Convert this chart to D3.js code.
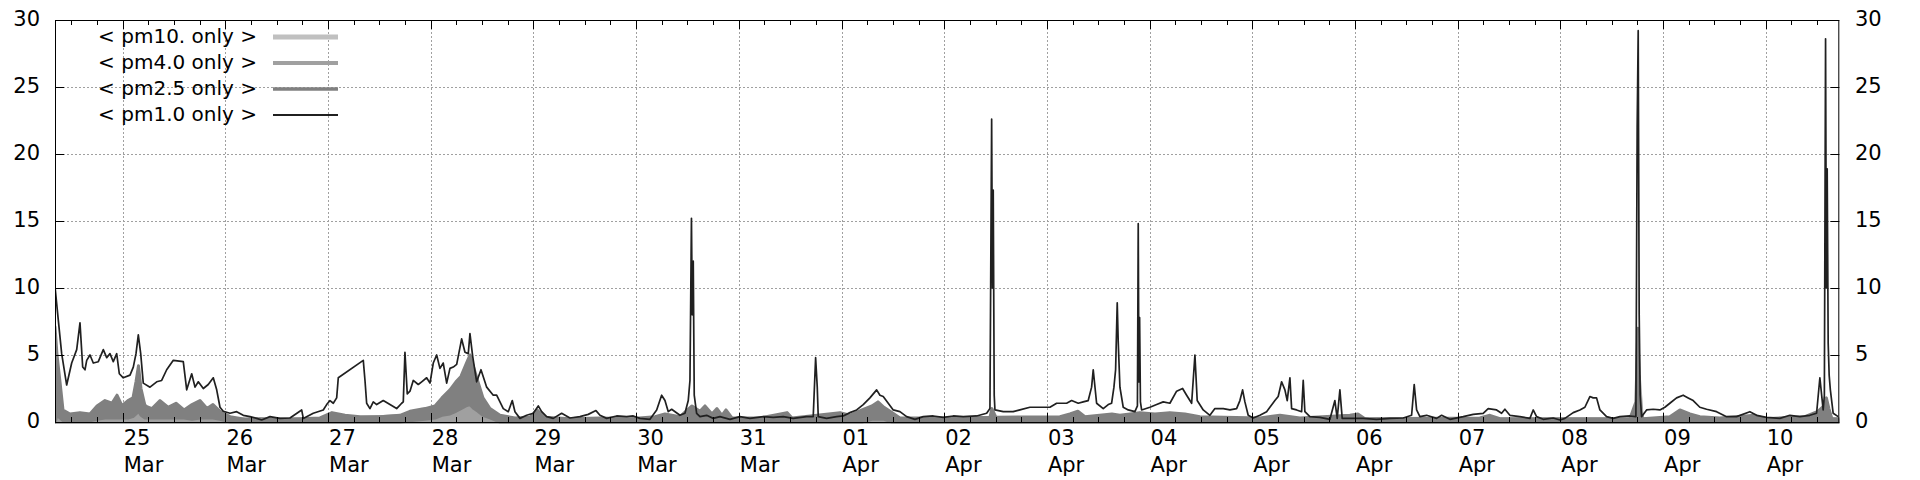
<!DOCTYPE html>
<html><head><meta charset="utf-8">
<script src="https://cdn.jsdelivr.net/npm/d3@7"></script>
<style>
body{margin:0;background:#fff}
svg{display:block}
text{font-family:"DejaVu Sans",sans-serif;fill:#000}
</style>
</head><body>
<svg id="c" width="1920" height="480"></svg>
<script>
// ---------------- DATA (time in hours after 24 Mar 00:00) ----------------
const seriesNames = ["< pm10. only >", "< pm4.0 only >", "< pm2.5 only >", "< pm1.0 only >"];
const yTicks = [0, 5, 10, 15, 20, 25, 30];

const pm1Hours = [8.18,8.95,9.74,10.91,12.08,13.25,14.02,14.65,15.19,15.59,16.36,17.13,18.30,19.47,20.26,21.03,21.80,22.60,23.21,24.14,25.71,26.48,27.11,27.65,28.21,28.81,30.38,31.95,33.11,34.28,35.83,38.16,38.96,40.13,40.90,41.67,42.84,44.0,45.17,45.97,46.74,47.51,49.08,50.64,52.18,53.75,55.32,56.48,58.42,60.76,63.10,65.83,66.21,68.54,70.88,71.67,72.45,73.22,74.01,74.39,80.23,80.63,81.02,81.79,82.57,83.36,84.90,86.47,88.03,89.20,89.58,89.97,90.51,91.14,91.91,93.08,93.88,95.04,95.82,96.59,97.38,98.15,98.92,99.72,100.49,101.26,102.06,103.22,104.0,104.77,105.16,105.8,106.73,107.74,109.07,110.61,111.40,112.95,114.12,115.05,115.68,116.85,118.41,119.96,121.13,121.92,123.09,124.63,126.59,128.53,130.87,132.81,134.61,135.55,137.11,139.45,141.78,143.33,144.89,147.23,148.80,149.96,150.74,151.51,152.30,154.24,155.41,156.18,156.58,156.93,157.12,157.35,157.58,158.14,158.92,160.48,162.02,163.59,165.93,168.26,170.60,173.71,176.04,178.38,180.72,183.85,185.39,185.95,186.33,186.56,188.52,190.86,192.40,193.97,195.54,197.08,198.64,200.21,200.98,201.75,202.92,204.09,205.65,207.22,209.16,211.10,213.44,215.77,218.11,220.45,223.58,225.92,226.69,227.09,227.27,227.46,227.69,227.86,229.80,232.13,233.70,236.04,238.37,240.71,242.28,244.61,245.78,247.32,248.49,249.66,250.45,250.83,251.62,253.17,254.34,255.13,255.67,256.06,256.44,256.67,257.07,257.84,259.01,260.57,261.16,261.35,261.51,261.67,261.86,262.14,264.08,265.65,267.19,268.75,270.32,271.72,272.66,273.83,274.60,275.13,276.54,278.10,279.27,281.21,282.78,284.34,285.11,285.74,286.28,287.05,288.22,289.79,291.35,292.12,293.29,294.06,294.86,295.63,296.17,296.80,297.20,298.36,299.53,299.91,300.30,301.47,303.81,306.15,307.31,307.85,308.48,309.02,310.82,313.93,317.06,320.17,323.28,325.24,325.85,326.41,327.18,328.74,331.08,332.25,334.19,337.30,339.64,341.97,343.14,345.10,346.27,347.04,348.21,350.55,352.89,353.66,354.45,356.0,358.33,359.9,361.07,363.01,364.57,365.74,366.91,367.68,368.47,369.25,370.81,372.35,373.92,376.26,377.66,377.96,378.20,378.43,378.66,378.99,380.16,381.70,383.27,384.43,385.60,387.17,388.71,389.88,391.05,392.61,394.18,396.52,398.85,401.19,404.30,405.87,408.20,411.31,413.65,415.99,418.32,419.89,420.66,421.43,421.71,421.99,422.18,422.37,422.60,422.83,423.11,423.77,424.94];
const pm1Vals = [10.1,7.6,5.1,2.76,4.4,5.4,7.4,4.1,3.9,4.6,5.0,4.4,4.5,5.4,4.8,5.1,4.5,5.1,3.6,3.3,3.5,4.1,5.1,6.5,5.1,2.9,2.6,3.0,3.1,3.9,4.6,4.5,2.4,3.6,2.6,3.0,2.5,2.8,3.3,2.4,1.1,0.8,0.65,0.77,0.5,0.4,0.27,0.15,0.4,0.27,0.3,0.9,0.27,0.65,0.9,1.3,1.6,1.4,1.8,3.3,4.6,3.1,1.4,1.0,1.5,1.3,1.6,1.3,1.0,1.4,1.5,5.2,2.1,2.3,3.1,2.8,3.0,3.3,2.9,4.4,5.0,4.0,4.4,2.9,4.0,4.1,4.3,6.2,5.2,5.1,6.6,4.9,3.0,3.9,2.6,2.0,2.0,1.0,0.77,1.6,0.77,0.27,0.5,0.65,1.2,0.77,0.4,0.27,0.65,0.3,0.4,0.57,0.85,0.5,0.27,0.45,0.4,0.45,0.27,0.2,0.9,2.0,1.6,0.77,0.95,0.5,0.65,1.6,3.1,15.2,8,12,2,0.65,0.4,0.5,0.27,0.4,0.2,0.4,0.27,0.4,0.35,0.4,0.27,0.4,0.4,4.8,2.6,0.4,0.27,0.4,0.45,0.7,0.9,1.3,1.8,2.4,2.0,1.9,1.4,0.9,0.77,0.4,0.2,0.4,0.45,0.35,0.45,0.4,0.45,0.65,1.0,22.6,10,17.3,2,0.9,0.77,0.77,0.9,1.1,1.1,1.1,1.4,1.4,1.6,1.4,1.5,1.6,2.6,3.9,1.4,1.0,1.3,1.4,2.6,3.9,8.9,6,2.6,1.1,0.9,0.77,1.2,14.8,3,7.8,1.5,0.9,1.1,1.3,1.5,1.4,2.3,2.5,2.0,1.4,5.0,1.6,0.9,0.5,1.0,1.0,0.9,1.0,1.6,2.4,1.5,0.5,0.3,0.5,0.77,1.1,1.6,1.9,3.0,2.4,1.6,3.3,1.0,0.9,0.77,3.1,0.77,0.4,0.35,0.2,1.6,0.27,2.4,0.27,0.27,0.27,0.2,0.27,0.3,0.5,2.8,0.9,0.4,0.5,0.27,0.5,0.2,0.4,0.57,0.65,1.0,0.9,0.65,0.95,0.5,0.4,0.27,0.9,0.4,0.2,0.3,0.15,0.27,0.7,0.9,1.1,1.9,1.8,1.8,0.9,0.4,0.27,0.4,0.45,0.4,22,29.2,8,2,0.4,0.9,0.95,0.9,1.1,1.4,1.8,2.0,1.8,1.6,1.1,0.95,0.77,0.4,0.4,0.77,0.5,0.35,0.27,0.5,0.4,0.5,0.65,3.3,0.9,2,28.6,10,18.9,5.9,3.5,2.4,0.65,0.4];

// pm2.5-only: dense noisy trace read as low / high envelope
const pm25Hours = [8.18,8.65,9.35,10.05,11.68,14.02,16.36,18.0,19.86,21.5,22.67,23.84,25.24,26.41,27.11,27.69,28.28,29.21,30.85,32.72,34.59,36.46,38.33,40.20,42.06,43.70,45.10,46.74,49.08,52.58,56.09,60.76,65.44,70.11,72.92,75.96,79.46,84.13,88.81,91.14,94.65,96.99,98.62,100.49,101.89,103.06,104.23,105.16,106.10,107.03,108.20,109.84,112.18,115.68,119.19,120.82,122.69,128.53,135.55,142.56,148.40,150.74,154.24,157.05,158.92,160.09,161.72,162.89,164.06,165.0,166.4,172.95,179.26,180.43,191.65,193.97,196.78,199.11,200.52,201.92,203.79,205.65,219.68,226.69,227.16,228.09,243.05,245.38,247.25,248.89,255.20,257.07,261.75,265.25,268.75,272.26,275.77,289.79,294.47,299.14,310.82,312.69,314.33,341.21,343.54,345.88,376.26,377.66,378.13,378.60,379.30,385.60,387.94,390.28,392.61,397.29,405.47,407.81,417.16,420.2,421.6,422.18,422.77,423.47,425.2];
const pm25Lo = [0,0.5,0.3,0.1,0.1,0.1,0.1,0.2,0.3,0.3,0.3,0.3,0.3,0.4,0.6,0.8,0.5,0.3,0.3,0.3,0.3,0.3,0.3,0.2,0.3,0.3,0.3,0.2,0,0,0,0,0,0,0,0,0,0,0,0.1,0.2,0.3,0.5,0.6,0.8,1.0,1.2,1.3,1.0,0.8,0.5,0.3,0,0,0,0,0,0,0,0,0,0,0,0,0,0,0,0,0,0,0,0,0,0,0,0,0,0.2,0.2,0.2,0,0,0,0,0,0,0,0,0,0,0,0,0,0,0,0,0,0,0,0,0,0,0,0,0,0,0,0,0,0,0,0,0,0,0,0,0,0,0,0,0,0,0,0,0,0,0];
const pm25Hi = [7.1,5.0,3.0,0.9,0.6,0.7,0.6,1.2,1.6,1.4,2.0,1.2,1.6,1.8,3.0,4.2,2.5,1.2,1.0,1.6,1.1,1.4,0.9,1.3,1.6,1.0,1.3,0.8,0.4,0.2,0.25,0.2,0.25,0.3,0.7,0.5,0.4,0.4,0.5,0.8,1.0,1.2,1.8,2.4,3.0,3.4,4.3,5.0,4.0,3.0,1.8,1.0,0.5,0.3,0.35,0.9,0.35,0.25,0.3,0.25,0.4,0.6,0.4,1.2,0.8,1.2,0.6,1.0,0.5,0.9,0.3,0.3,0.7,0.3,0.7,0.5,0.9,1.2,1.5,1.1,0.7,0.3,0.3,0.35,1.0,0.35,0.4,0.6,0.8,0.4,0.6,0.5,0.7,0.6,0.7,0.6,0.4,0.3,0.5,0.3,0.5,0.6,0.25,0.3,0.5,0.25,0.25,1.5,7.0,1.0,0.25,0.4,0.9,0.6,0.4,0.3,0.5,0.25,0.4,0.8,1.2,1.8,1.0,0.25,0.25];

// pm4.0-only and pm10-only (upper edge of their traces)
const pm4Hours = [8.18,8.88,9.81,17.5,22.2,27.6,30.4,45.6,48.0,72.5,98.2,103.3,105.2,107.5,111.0,156.6,157.05,158.0,199.0,200.5,203.3,377.7,378.4,379.1,421.0,422.0,422.9,425.2];
const pm4Hi    = [5.0,2.0,0.5,0.5,0.9,2.0,0.7,0.6,0.2,0.2,0.6,1.8,3.0,1.2,0.2,0.2,1.0,0.2,0.2,0.8,0.2,0.2,3.4,0.2,0.2,1.0,0.2,0.2];
const pm10Hours = [8.18,9.35,27.6,30.4,98.2,101.7,105.2,107.5,111.0,425.2];
const pm10Hi    = [1.1,0.2,0.6,0.1,0.2,0.9,1.3,0.7,0.1,0.1];

// ---------------- CHART ----------------
const W = 1920, H = 480;
const pL = 55, pR = 1839.3, pT = 20, pB = 422;
const day0 = Date.UTC(2020, 2, 24);
const T = h => new Date(day0 + h * 3600e3);

const svg = d3.select("#c");
const x = d3.scaleUtc().domain([T(8.18), T(425.2)]).range([pL, pR]);
const y = d3.scaleLinear().domain([0, 30]).range([pB, pT]);

const days = d3.utcDay.range(x.domain()[0], x.domain()[1]);
const quarter = d3.utcHour.every(6).range(x.domain()[0], x.domain()[1]);

// grid
const grid = svg.append("g").attr("stroke", "#a0a0a0").attr("stroke-width", 1).attr("stroke-dasharray", "2,2");
grid.selectAll("line.v").data(days).join("line")
  .attr("x1", d => Math.round(x(d)) + 0.5).attr("x2", d => Math.round(x(d)) + 0.5)
  .attr("y1", pT).attr("y2", pB);
grid.selectAll("line.h").data(yTicks.filter(v => v > 0 && v < 30)).join("line")
  .attr("x1", pL).attr("x2", pR)
  .attr("y1", d => Math.round(y(d)) + 0.5).attr("y2", d => Math.round(y(d)) + 0.5);

// clip
svg.append("clipPath").attr("id", "clip").append("rect")
  .attr("x", pL).attr("y", 0).attr("width", pR - pL).attr("height", H);
const plot = svg.append("g").attr("clip-path", "url(#clip)");

function band(hours, lo, hi, color, width) {
  const pts = hours.map((h, i) => ({ t: T(h), lo: lo ? lo[i] : 0, hi: hi[i] }));
  plot.append("path").datum(pts)
    .attr("d", d3.area().x(d => x(d.t)).y0(d => y(d.lo)).y1(d => y(d.hi)))
    .attr("fill", color).attr("stroke", color).attr("stroke-width", width)
    .attr("stroke-linejoin", "round");
}
band(pm10Hours, null, pm10Hi, "#c0c0c0", 4);
band(pm4Hours, null, pm4Hi, "#a0a0a0", 3.5);
band(pm25Hours, pm25Lo, pm25Hi, "#808080", 3);

const pm1 = pm1Hours.map((h, i) => ({ t: T(h), v: pm1Vals[i] }));
plot.append("path").datum(pm1)
  .attr("d", d3.line().x(d => x(d.t)).y(d => y(d.v)))
  .attr("fill", "none").attr("stroke", "#202020").attr("stroke-width", 1.7)
  .attr("stroke-linejoin", "round");

// frame
svg.append("rect").attr("x", pL + 0.5).attr("y", pT + 0.5)
  .attr("width", pR - pL - 1).attr("height", pB - pT)
  .attr("fill", "none").attr("stroke", "#000").attr("stroke-width", 1);

// ticks
const tk = svg.append("g").attr("stroke", "#000").attr("stroke-width", 1);
tk.selectAll("line.mb").data(quarter).join("line")
  .attr("x1", d => Math.round(x(d)) + 0.5).attr("x2", d => Math.round(x(d)) + 0.5)
  .attr("y1", pB).attr("y2", d => pB - (d.getUTCHours() === 0 ? 9 : 5));
tk.selectAll("line.mt").data(quarter).join("line")
  .attr("x1", d => Math.round(x(d)) + 0.5).attr("x2", d => Math.round(x(d)) + 0.5)
  .attr("y1", pT).attr("y2", d => pT + (d.getUTCHours() === 0 ? 9 : 5));
tk.selectAll("line.yl").data(yTicks).join("line")
  .attr("x1", pL).attr("x2", pL + 9)
  .attr("y1", d => Math.round(y(d)) + 0.5).attr("y2", d => Math.round(y(d)) + 0.5);
tk.selectAll("line.yr").data(yTicks).join("line")
  .attr("x1", pR).attr("x2", pR - 9)
  .attr("y1", d => Math.round(y(d)) + 0.5).attr("y2", d => Math.round(y(d)) + 0.5);

// y labels
const fs = 21, fsLeg = 20;
svg.append("g").selectAll("text").data(yTicks).join("text")
  .attr("x", 40).attr("y", d => y(d) + 5.5).attr("text-anchor", "end")
  .attr("font-size", fs).text(d => d);
svg.append("g").selectAll("text").data(yTicks).join("text")
  .attr("x", 1855).attr("y", d => y(d) + 5.5).attr("text-anchor", "start")
  .attr("font-size", fs).text(d => d);

// x labels
const xl = svg.append("g").selectAll("text").data(days).join("text")
  .attr("font-size", fs).attr("text-anchor", "start");
xl.append("tspan").attr("x", d => x(d) + 1).attr("y", 445).text(d3.utcFormat("%d"));
xl.append("tspan").attr("x", d => x(d) + 1).attr("y", 472).text(d3.utcFormat("%b"));

// legend
const legColors = ["#c0c0c0", "#a0a0a0", "#808080", "#202020"];
const legWidths = [5, 4, 3.3, 2];
const lg = svg.append("g");
seriesNames.forEach((s, i) => {
  const cy = 37 + i * 26;
  lg.append("text").attr("x", 257).attr("y", cy + 6).attr("text-anchor", "end")
    .attr("font-size", fsLeg).text(s);
  lg.append("line").attr("x1", 273).attr("x2", 338).attr("y1", cy).attr("y2", cy)
    .attr("stroke", legColors[i]).attr("stroke-width", legWidths[i]);
});
</script>
</body></html>
